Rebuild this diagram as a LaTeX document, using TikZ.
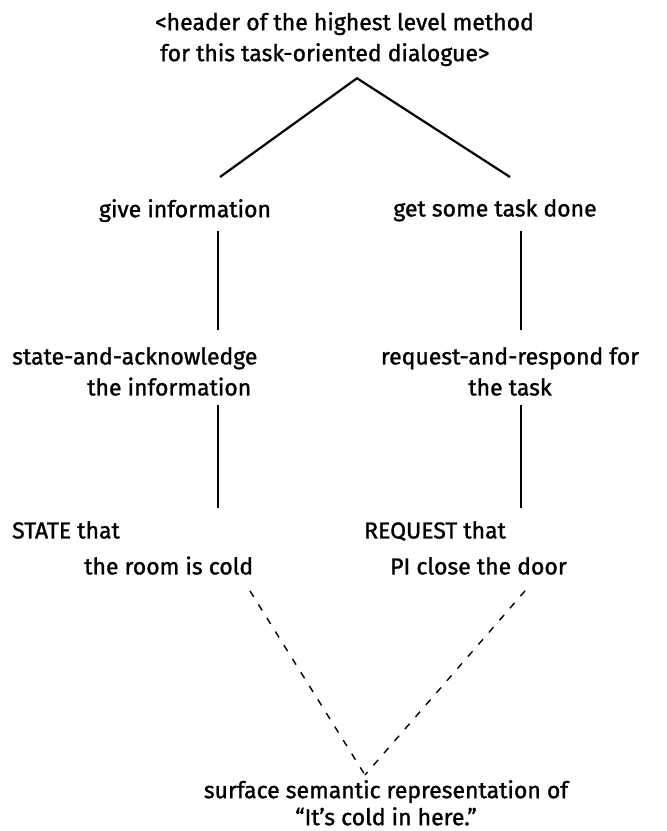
\documentclass[tikz,border=0pt]{standalone}
\usepackage{fontspec}
\setmainfont{Fira Sans}[FakeBold=1.2]
\usepackage{tikz}
\usetikzlibrary{calc}
\usetikzlibrary{positioning}

\tikzset{
    txt/.style    = {font=\fontsize{23}{31}\selectfont, inner sep=0pt},
    pair/.style   = {txt, font=\fontsize{23}{36}\selectfont},
    branch/.style = {line width=2.2pt},
    surf/.style   = {line width=1.4pt, dash pattern=on 7pt off 9pt}
}

\begin{document}
\begin{tikzpicture}[x=1pt, y=-1pt]
            \useasboundingbox (0,0) rectangle (667,831);

            \node[txt, anchor=north west, align=left] (header)      at (155, 12)  {<header of the highest level method\\\hspace*{5pt}for this task-oriented dialogue>};
            \node[txt, anchor=north]                  (give)        at (185,199)  {give information};
            \node[txt, anchor=north]                  (getTask)     at (495,199)  {get some task done};
            \node[txt, anchor=north west, align=left] (stateAck)    at ( 12,347)  {state-and-acknowledge\\\hspace*{75pt}the information};
            \node[txt, anchor=north, align=center]    (reqResp)     at (510,347)  {request-and-respond for\\the task};
            \node[pair, anchor=north west, align=left] (stateThat)  at ( 12,521)  {STATE that\\\hspace*{72pt}the room is cold};
            \node[pair, anchor=north west, align=left] (requestThat) at (364,521) {REQUEST that\\\hspace*{26pt}PI close the door};
            \node[txt, anchor=north, align=center, font=\fontsize{23}{27}\selectfont]
                                                      (surface)     at (386,780)  {surface semantic representation of\\``It's cold in here.''};

            \coordinate (apex) at ([xshift=202pt, yshift=-12pt]header.south west);
            \coordinate (join) at ([xshift=-21pt, yshift=5pt]surface.north);

            \draw[branch] ([xshift=35pt, yshift=22pt]give.north) -- (apex) -- ([xshift=15pt, yshift=22pt]getTask.north);
            \draw[branch] ([xshift=33pt, yshift=-9pt]give.south)           -- ([xshift=206pt, yshift=17pt]stateAck.north west);
            \draw[branch] ([xshift=26pt, yshift=-9pt]getTask.south)        -- ([xshift=11pt, yshift=17pt]reqResp.north);
            \draw[branch] ([xshift=206pt, yshift=-9pt]stateAck.south west) -- ([xshift=206pt, yshift=13pt]stateThat.north west);
            \draw[branch] ([xshift=11pt, yshift=-9pt]reqResp.south)        -- ([xshift=157pt, yshift=13pt]requestThat.north west);

            \draw[surf] ([xshift=238pt, yshift=-16pt]stateThat.south west)   -- (join);
            \draw[surf] ([xshift=161pt, yshift=-16pt]requestThat.south west) -- (join);
\end{tikzpicture}
\end{document}
